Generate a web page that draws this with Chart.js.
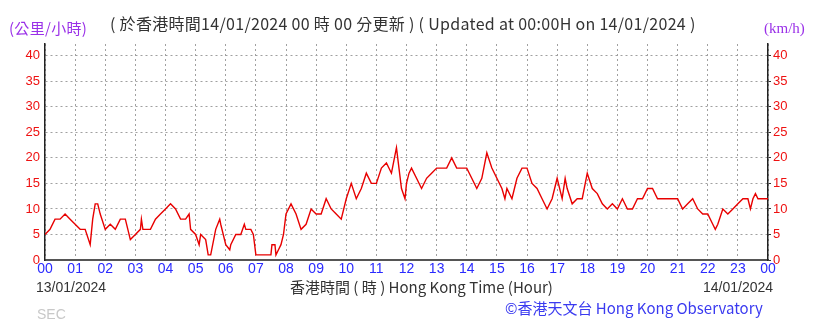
<!DOCTYPE html>
<html>
<head>
<meta charset="utf-8">
<script src="https://cdn.jsdelivr.net/npm/chart.js@4.4.1/dist/chart.umd.min.js"></script>
<style>
  body { margin: 0; background: #fff; }
  #wrap { position: relative; width: 819px; height: 323px; overflow: hidden; }
  #wrap canvas { position: absolute; left: 0; top: 0; }
  .txt { position: absolute; white-space: nowrap; font-family: "Liberation Sans", Arial, sans-serif; line-height: 1; }
</style>
</head>
<body>
<div id="wrap">
  <canvas id="myChart" width="819" height="323"></canvas>
  <div class="txt" id="title" style="left:110px; top:15px; font-size:16px; letter-spacing:0.3px; color:#333; font-family:'Noto Sans CJK TC', sans-serif;">( 於香港時間14/01/2024 00 時 00 分更新 ) ( Updated at 00:00H on 14/01/2024 )</div>
  <div class="txt" style="left:9px; top:20px; font-size:15px; letter-spacing:0.3px; color:#9a30e8; font-family:'Noto Sans CJK TC', sans-serif;">(公里/小時)</div>
  <div class="txt" style="left:764px; top:21px; font-size:15px; color:#9a30e8; font-family:'Liberation Serif', serif;">(km/h)</div>
  <div class="txt" style="left:36px; top:280px; font-size:14px; color:#333;">13/01/2024</div>
  <div class="txt" style="left:290px; top:279px; font-size:15px; color:#333; font-family:'Noto Sans CJK TC', sans-serif;">香港時間 ( 時 ) Hong Kong Time (Hour)</div>
  <div class="txt" style="left:703px; top:280px; font-size:14px; color:#333;">14/01/2024</div>
  <div class="txt" style="left:37px; top:307px; font-size:14px; color:#c8c8c8;">SEC</div>
  <div class="txt" style="left:505px; top:300px; font-size:15px; color:#3a3af0; font-family:'Noto Sans CJK TC', sans-serif;">©香港天文台 Hong Kong Observatory</div>
</div>
<script>
// minutes after 00:00 on 13/01/2024
const minutes = [0, 10, 20, 30, 40, 50, 60, 70, 80, 90, 95, 100, 105, 110, 120, 130, 140, 150, 160, 170,
  180, 190, 192, 195, 200, 210, 220, 230, 240, 250, 260, 270, 280, 287, 290, 300, 307, 310, 320, 325,
  330, 340, 348, 350, 360, 368, 370, 380, 390, 397, 400, 410, 415, 420, 430, 440, 450, 452, 458, 460,
  465, 470, 475, 480, 490, 500, 510, 520, 530, 540, 550, 560, 570, 580, 590, 600, 610, 620, 630, 640,
  650, 660, 670, 680, 690, 700, 710, 717, 720, 725, 730, 740, 750, 760, 770, 780, 790, 800, 810, 820,
  830, 840, 850, 860, 870, 880, 890, 900, 910, 916, 920, 930, 940, 950, 960, 970, 980, 990, 1000, 1010,
  1020, 1030, 1036, 1040, 1050, 1060, 1070, 1080, 1090, 1100, 1110, 1120, 1130, 1140, 1150, 1160, 1170, 1180, 1190, 1200,
  1210, 1220, 1260, 1270, 1280, 1290, 1300, 1310, 1320, 1330, 1335, 1340, 1350, 1360, 1370, 1380, 1390, 1400, 1405, 1410,
  1415, 1420, 1440];
// wind speed, km/h
const speeds = [5, 6, 8, 8, 9, 8, 7, 6, 6, 3, 8, 11, 11, 9, 6, 7, 6, 8, 8, 4,
  5, 6, 8, 6, 6, 6, 8, 9, 10, 11, 10, 8, 8, 9, 6, 5, 3, 5, 4, 1,
  1, 6, 8, 7, 3, 2, 3, 5, 5, 7, 6, 6, 5, 1, 1, 1, 1, 3, 3, 1,
  2, 3, 5, 9, 11, 9, 6, 7, 10, 9, 9, 12, 10, 9, 8, 12, 15, 12, 14, 17,
  15, 15, 18, 19, 17, 22, 14, 12, 15, 17, 18, 16, 14, 16, 17, 18, 18, 18, 20, 18,
  18, 18, 16, 14, 16, 21, 18, 16, 14, 12, 14, 12, 16, 18, 18, 15, 14, 12, 10, 12,
  16, 12, 16, 14, 11, 12, 12, 17, 14, 13, 11, 10, 11, 10, 12, 10, 10, 12, 12, 14,
  14, 12, 12, 10, 11, 12, 10, 9, 9, 7, 6, 7, 10, 9, 10, 11, 12, 12, 10, 12,
  13, 12, 12];
const hourLabels = ['00', '01', '02', '03', '04', '05', '06', '07', '08', '09', '10', '11', '12',
  '13', '14', '15', '16', '17', '18', '19', '20', '21', '22', '23', '00'];
const yTicks = [0, 5, 10, 15, 20, 25, 30, 35, 40];

const points = minutes.map((m, i) => ({ x: m, y: speeds[i] }));
const gridColor = '#a0a0a0';
const dots = [2, 3];
const keepTicks = s => { s.ticks = yTicks.map(v => ({ value: v })); };

new Chart(document.getElementById('myChart'), {
  type: 'line',
  data: {
    datasets: [{
      data: points,
      borderColor: '#e80000',
      borderWidth: 1.4,
      pointRadius: 0,
      tension: 0,
      fill: false
    }]
  },
  options: {
    responsive: false,
    animation: false,
    events: [],
    layout: { padding: { top: 44, left: 0, right: 0, bottom: 0 } },
    plugins: { legend: { display: false }, tooltip: { enabled: false } },
    scales: {
      x: {
        type: 'linear',
        min: 0,
        max: 1440,
        afterFit: s => { s.height = 63; },
        ticks: {
          stepSize: 60,
          autoSkip: false,
          maxRotation: 0,
          padding: 1,
          color: '#2a2aff',
          font: { family: 'Liberation Sans', size: 14 },
          callback: v => hourLabels[v / 60]
        },
        grid: { color: gridColor, drawTicks: false },
        border: { color: '#555', width: 2, dash: dots }
      },
      y: {
        position: 'left',
        min: 0,
        max: 42.3,
        afterFit: s => { s.width = 45; },
        afterBuildTicks: keepTicks,
        ticks: { padding: 5, color: '#ee1111', font: { family: 'Liberation Sans', size: 13 } },
        grid: { color: gridColor, drawTicks: false },
        border: { color: '#222', width: 1.5, dash: dots }
      },
      y1: {
        position: 'right',
        min: 0,
        max: 42.3,
        afterFit: s => { s.width = 51; },
        afterBuildTicks: keepTicks,
        ticks: { padding: 2, color: '#ee1111', font: { family: 'Liberation Sans', size: 13 } },
        grid: { drawOnChartArea: false, tickLength: 3, tickColor: '#333' },
        border: { color: '#222', width: 1.5 }
      }
    }
  }
});
</script>
</body>
</html>
